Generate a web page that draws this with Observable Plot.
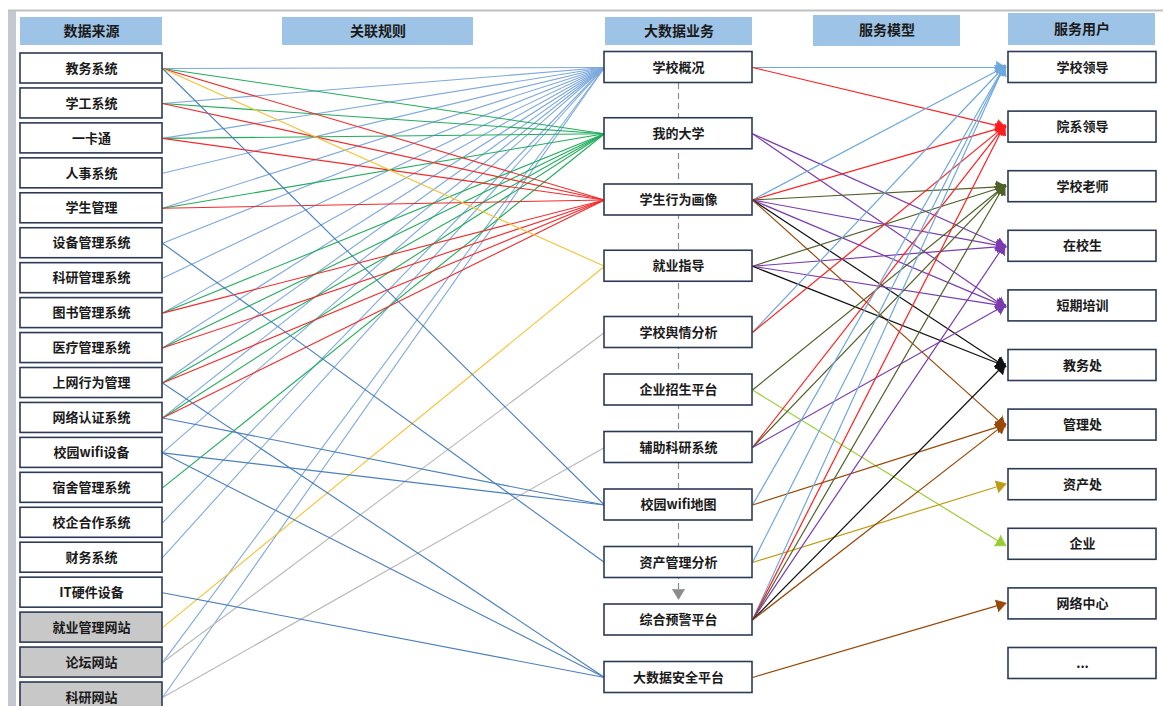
<!DOCTYPE html>
<html><head><meta charset="utf-8">
<script src="https://cdn.jsdelivr.net/npm/d3@7"></script>
<script src="https://cdn.jsdelivr.net/npm/@observablehq/plot@0.6"></script>
<style>html,body{margin:0;padding:0;background:#fff;overflow:hidden}</style>
</head><body><div id="chart"></div>
<script>
// ---------- data ----------
const headers = ["数据来源", "关联规则", "大数据业务", "服务模型", "服务用户"];
const sources = ["教务系统","学工系统","一卡通","人事系统","学生管理","设备管理系统","科研管理系统","图书管理系统","医疗管理系统","上网行为管理","网络认证系统","校园wifi设备","宿舍管理系统","校企合作系统","财务系统","IT硬件设备","就业管理网站","论坛网站","科研网站"];
const websiteSources = ["就业管理网站","论坛网站","科研网站"];
const services = ["学校概况","我的大学","学生行为画像","就业指导","学校舆情分析","企业招生平台","辅助科研系统","校园wifi地图","资产管理分析","综合预警平台","大数据安全平台"];
const users = ["学校领导","院系领导","学校老师","在校生","短期培训","教务处","管理处","资产处","企业","网络中心","..."];
const sourceLinks = [
  ["教务系统","学校概况"],["学工系统","学校概况"],["一卡通","学校概况"],["人事系统","学校概况"],["学生管理","学校概况"],
  ["设备管理系统","学校概况"],["科研管理系统","学校概况"],["图书管理系统","学校概况"],["医疗管理系统","学校概况"],
  ["上网行为管理","学校概况"],["网络认证系统","学校概况"],["校园wifi设备","学校概况"],["校企合作系统","学校概况"],
  ["财务系统","学校概况"],["论坛网站","学校概况"],["科研网站","学校概况"],
  ["教务系统","我的大学"],["学工系统","我的大学"],["一卡通","我的大学"],["学生管理","我的大学"],["图书管理系统","我的大学"],
  ["医疗管理系统","我的大学"],["上网行为管理","我的大学"],["网络认证系统","我的大学"],["宿舍管理系统","我的大学"],
  ["教务系统","学生行为画像"],["学工系统","学生行为画像"],["一卡通","学生行为画像"],["学生管理","学生行为画像"],
  ["图书管理系统","学生行为画像"],["医疗管理系统","学生行为画像"],["上网行为管理","学生行为画像"],["网络认证系统","学生行为画像"],
  ["教务系统","就业指导"],["就业管理网站","就业指导"],
  ["论坛网站","学校舆情分析"],["科研网站","辅助科研系统"],
  ["教务系统","校园wifi地图"],["网络认证系统","校园wifi地图"],["校园wifi设备","校园wifi地图"],
  ["设备管理系统","资产管理分析"],
  ["上网行为管理","大数据安全平台"],["校园wifi设备","大数据安全平台"],["IT硬件设备","大数据安全平台"]
];
const serviceLinks = [
  ["学校概况","学校领导"],["学校概况","院系领导"],
  ["我的大学","在校生"],["我的大学","短期培训"],
  ["学生行为画像","学校领导"],["学生行为画像","院系领导"],["学生行为画像","学校老师"],["学生行为画像","在校生"],
  ["学生行为画像","短期培训"],["学生行为画像","教务处"],["学生行为画像","管理处"],
  ["就业指导","学校老师"],["就业指导","在校生"],["就业指导","短期培训"],["就业指导","教务处"],
  ["学校舆情分析","学校领导"],["学校舆情分析","院系领导"],
  ["企业招生平台","学校老师"],["企业招生平台","企业"],
  ["辅助科研系统","院系领导"],["辅助科研系统","学校老师"],["辅助科研系统","短期培训"],
  ["校园wifi地图","学校领导"],["校园wifi地图","管理处"],
  ["资产管理分析","学校领导"],["资产管理分析","资产处"],
  ["综合预警平台","学校领导"],["综合预警平台","院系领导"],["综合预警平台","学校老师"],["综合预警平台","在校生"],
  ["综合预警平台","教务处"],["综合预警平台","管理处"],
  ["大数据安全平台","网络中心"]
];
const flowLinks = [["学校概况","综合预警平台"]];

// ---------- styles & layout (not data) ----------
const W = 1163, H = 706;
const serviceColor = {
  "学校概况":"#7ea9dd","我的大学":"#21ad5b","学生行为画像":"#f42a2a","就业指导":"#f4c232",
  "学校舆情分析":"#b9b9b9","辅助科研系统":"#b9b9b9","校园wifi地图":"#4b7fbd","资产管理分析":"#4b7fbd","大数据安全平台":"#4b7fbd"
};
const userColor = {
  "学校领导":"#6fa8dc","院系领导":"#ff1e1e","学校老师":"#4f6228","在校生":"#7a3bb0","短期培训":"#7a3bb0",
  "教务处":"#111111","管理处":"#984807","资产处":"#c09a10","企业":"#9acd32","网络中心":"#984807"
};
// each column: box extent and a piecewise-even vertical layout (stops = [index, y])
const colSrc = {x1: 20, x2: 162, h: 30, stops: [[0, 68], [18, 697]]};
const colSvc = {x1: 604, x2: 752, h: 31, stops: [[0, 67], [4, 332], [10, 677]]};
const colUsr = {x1: 1008, x2: 1156, h: 31, stops: [[0, 67], [10, 663]]};
const headerSpan = [[20,162],[282,473],[605,752],[813,960],[1008,1155]];
const headerY = [[17,45],[17,45],[17,45],[15,46],[13,45]];
const yOf = (col, list) => {
  const f = d3.scaleLinear().domain(col.stops.map(s => s[0])).range(col.stops.map(s => s[1]));
  return name => f(list.indexOf(name));
};
const ySrc = yOf(colSrc, sources), ySvc = yOf(colSvc, services), yUsr = yOf(colUsr, users);
const cx = col => (col.x1 + col.x2) / 2;
const font = "'Noto Sans CJK SC', 'Microsoft YaHei', sans-serif";
const boxStroke = "#2c3a57";

const boxMarks = (list, col, yf, fillFn) => [
  Plot.rect(list, {x1: col.x1, x2: col.x2, y1: d => yf(d) - col.h / 2, y2: d => yf(d) + col.h / 2,
    fill: fillFn, stroke: boxStroke, strokeWidth: 1.6}),
  Plot.text(list, {x: cx(col), y: yf, text: d => d, fill: "#1a1a1a", fontSize: 13, fontWeight: "bold"})
];

const chart = Plot.plot({
  width: W, height: H,
  marginTop: 0, marginRight: 0, marginBottom: 0, marginLeft: 0,
  x: {domain: [0, W], range: [0, W], axis: null},
  y: {domain: [0, H], range: [0, H], axis: null},
  color: {type: "identity"},
  style: {fontFamily: font, background: "#fff"},
  marks: [
    // frame
    Plot.rect([0], {x1: 8, x2: 16, y1: 10, y2: H, fill: "#c4c8d0"}),
    Plot.ruleY([10], {x1: 8, x2: W, stroke: "#c0c0c0", strokeWidth: 2}),
    // headers
    Plot.rect(headers, {x1: (d, i) => headerSpan[i][0], x2: (d, i) => headerSpan[i][1],
      y1: (d, i) => headerY[i][0], y2: (d, i) => headerY[i][1], fill: "#9dc3e6"}),
    Plot.text(headers, {x: (d, i) => (headerSpan[i][0] + headerSpan[i][1]) / 2, y: (d, i) => (headerY[i][0] + headerY[i][1]) / 2,
      text: d => d, fill: "#1a1a1a", fontSize: 14, fontWeight: "bold"}),
    // source -> service links
    Plot.link(sourceLinks, {x1: colSrc.x2, y1: d => ySrc(d[0]), x2: colSvc.x1, y2: d => ySvc(d[1]),
      stroke: d => serviceColor[d[1]], strokeWidth: 1.1}),
    // dashed flow inside service column
    Plot.link(flowLinks, {x1: cx(colSvc), y1: d => ySvc(d[0]) + colSvc.h / 2, x2: cx(colSvc), y2: d => ySvc(d[1]) - colSvc.h / 2 - 8,
      stroke: "#8c8c8c", strokeWidth: 1.2, strokeDasharray: "6,4", markerEnd: "arrow"}),
    // service -> user links
    Plot.link(serviceLinks, {x1: colSvc.x2, y1: d => ySvc(d[0]), x2: colUsr.x1 - 5, y2: d => yUsr(d[1]),
      stroke: d => userColor[d[1]], strokeWidth: 1.2, markerEnd: "arrow"}),
    // boxes
    ...boxMarks(sources, colSrc, ySrc, d => websiteSources.includes(d) ? "#c8c8c8" : "#fff"),
    ...boxMarks(services, colSvc, ySvc, () => "#fff"),
    ...boxMarks(users, colUsr, yUsr, () => "#fff")
  ]
});

// filled triangular arrowheads
d3.select(chart).selectAll("marker").each(function () {
  const m = d3.select(this);
  const c = m.attr("stroke");
  m.attr("fill", c).attr("stroke-width", 0.5).attr("stroke-dasharray", "none")
   .attr("markerWidth", 12).attr("markerHeight", 12);
  m.select("path").attr("d", "M-5,-4.2L2,0L-5,4.2Z");
});

document.getElementById("chart").append(chart);
</script>
</body></html>
